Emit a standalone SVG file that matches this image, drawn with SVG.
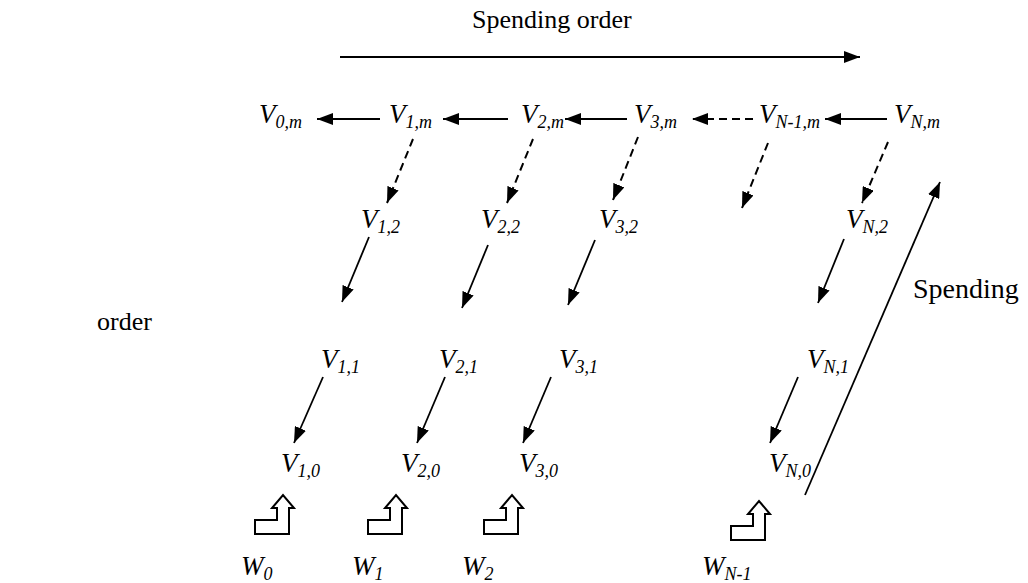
<svg xmlns="http://www.w3.org/2000/svg" width="1028" height="583" viewBox="0 0 1028 583">
<defs>
<marker id="ah" markerUnits="userSpaceOnUse" markerWidth="17" markerHeight="12" refX="16" refY="6" orient="auto">
<path d="M0,0 L16,6 L0,12 z" fill="#000"/>
</marker>
<style>
text{font-family:'Liberation Serif','Times New Roman',Times,serif;fill:#000}
.t{font-size:26px}
.v{font-size:27px;font-style:italic}
.s{font-size:18px}
.ln{stroke:#000;stroke-width:1.8;fill:none;marker-end:url(#ah)}
.dl{stroke:#000;stroke-width:2;fill:none;stroke-dasharray:8 5;marker-end:url(#ah)}
.bent{fill:#fff;stroke:#000;stroke-width:2}
</style>
</defs>
<rect width="1028" height="583" fill="#fff"/>
<g id="labels">
<text class="t" x="472" y="28">Spending order</text>
<text class="t" x="913" y="298" style="font-size:28px">Spending</text>
<text class="t" x="97" y="330">order</text>
</g>
<g id="connectors">
<line class="ln" x1="340" y1="57" x2="860" y2="57"/>
<line class="ln" x1="380" y1="119" x2="317" y2="119"/>
<line class="ln" x1="508" y1="119" x2="443" y2="119"/>
<line class="ln" x1="627" y1="119" x2="565" y2="119"/>
<line class="dl" x1="753" y1="119" x2="692" y2="119"/>
<line class="ln" x1="887" y1="119" x2="825" y2="119"/>
<line class="dl" x1="413" y1="139" x2="387" y2="203"/>
<line class="dl" x1="533" y1="139" x2="507" y2="203"/>
<line class="dl" x1="638" y1="137" x2="613" y2="200"/>
<line class="dl" x1="768" y1="143" x2="742" y2="208"/>
<line class="dl" x1="888" y1="142" x2="862" y2="203"/>
<line class="ln" x1="369" y1="237" x2="342" y2="302"/>
<line class="ln" x1="488" y1="245" x2="462" y2="308"/>
<line class="ln" x1="595" y1="240" x2="568" y2="305"/>
<line class="ln" x1="844" y1="239" x2="818" y2="303"/>
<line class="ln" x1="323" y1="377" x2="294" y2="443"/>
<line class="ln" x1="445" y1="377" x2="417" y2="443"/>
<line class="ln" x1="551" y1="377" x2="523" y2="443"/>
<line class="ln" x1="798" y1="377" x2="770" y2="443"/>
<line class="ln" x1="805" y1="495" x2="940" y2="182"/>
</g>
<g id="n-v0m"><text class="v" x="259" y="123">V<tspan class="s" dy="5">0,m</tspan></text></g>
<g id="n-v1m"><text class="v" x="389" y="123">V<tspan class="s" dy="5">1,m</tspan></text></g>
<g id="n-v2m"><text class="v" x="521" y="123">V<tspan class="s" dy="5">2,m</tspan></text></g>
<g id="n-v3m"><text class="v" x="634" y="123">V<tspan class="s" dy="5">3,m</tspan></text></g>
<g id="n-vn1m"><text class="v" x="759" y="123">V<tspan class="s" dy="5">N-1,m</tspan></text></g>
<g id="n-vnm"><text class="v" x="894" y="123">V<tspan class="s" dy="5">N,m</tspan></text></g>
<g id="n-v12"><text class="v" x="361" y="228">V<tspan class="s" dy="5">1,2</tspan></text></g>
<g id="n-v22"><text class="v" x="481" y="228">V<tspan class="s" dy="5">2,2</tspan></text></g>
<g id="n-v32"><text class="v" x="599" y="228">V<tspan class="s" dy="5">3,2</tspan></text></g>
<g id="n-vn2"><text class="v" x="846" y="228">V<tspan class="s" dy="5">N,2</tspan></text></g>
<g id="n-v11"><text class="v" x="321" y="368">V<tspan class="s" dy="5">1,1</tspan></text></g>
<g id="n-v21"><text class="v" x="439" y="368">V<tspan class="s" dy="5">2,1</tspan></text></g>
<g id="n-v31"><text class="v" x="559" y="368">V<tspan class="s" dy="5">3,1</tspan></text></g>
<g id="n-vn1"><text class="v" x="807" y="368">V<tspan class="s" dy="5">N,1</tspan></text></g>
<g id="n-v10"><text class="v" x="281" y="472">V<tspan class="s" dy="5">1,0</tspan></text></g>
<g id="n-v20"><text class="v" x="401" y="472">V<tspan class="s" dy="5">2,0</tspan></text></g>
<g id="n-v30"><text class="v" x="519" y="472">V<tspan class="s" dy="5">3,0</tspan></text></g>
<g id="n-vn0"><text class="v" x="769" y="472">V<tspan class="s" dy="5">N,0</tspan></text></g>
<g id="bent-arrows">
<path id="b0" class="bent" d="M255,534 L289,534 L289,508 L294,508 L283,495 L272,508 L277,508 L277,520 L255,520 Z"/>
<path id="b1" class="bent" transform="translate(113,0)" d="M255,534 L289,534 L289,508 L294,508 L283,495 L272,508 L277,508 L277,520 L255,520 Z"/>
<path id="b2" class="bent" transform="translate(229,0)" d="M255,534 L289,534 L289,508 L294,508 L283,495 L272,508 L277,508 L277,520 L255,520 Z"/>
<path id="b3" class="bent" transform="translate(476,6)" d="M255,534 L289,534 L289,508 L294,508 L283,495 L272,508 L277,508 L277,520 L255,520 Z"/>
</g>
<g id="n-w0"><text class="v" x="241" y="575">W<tspan class="s" dy="5">0</tspan></text></g>
<g id="n-w1"><text class="v" x="352" y="575">W<tspan class="s" dy="5">1</tspan></text></g>
<g id="n-w2"><text class="v" x="462" y="575">W<tspan class="s" dy="5">2</tspan></text></g>
<g id="n-wn1"><text class="v" x="702" y="575">W<tspan class="s" dy="5">N-1</tspan></text></g>
</svg>
